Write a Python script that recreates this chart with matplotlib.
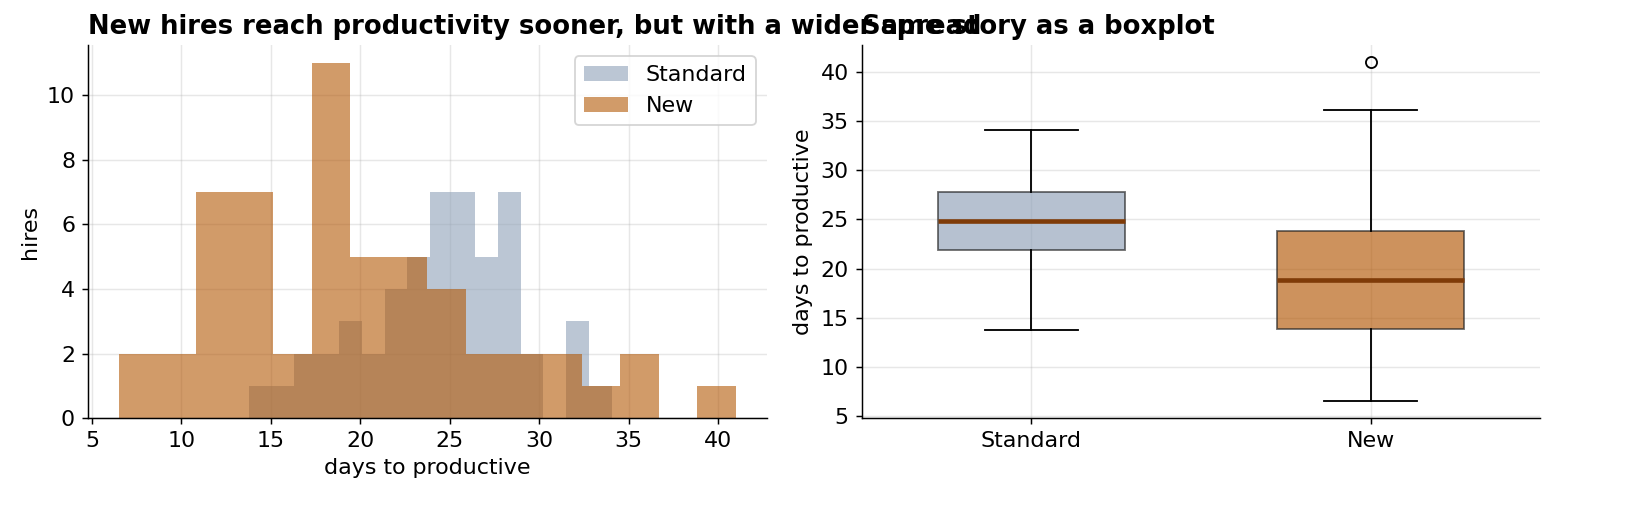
import numpy as np
import matplotlib
matplotlib.use("Agg")
import matplotlib.pyplot as plt

# histogram counts (16 bins each, spanning the min..max of each group)
STD_RANGE = (13.75, 34.05)
STD_COUNTS = [1, 1, 2, 2, 3, 2, 4, 5, 7, 7, 5, 7, 2, 0, 3, 1]
NEW_RANGE = (6.5, 41.0)
NEW_COUNTS = [2, 2, 7, 7, 2, 11, 5, 5, 4, 2, 2, 2, 1, 2, 0, 1]

# boxplot summary
GROUPS = ["Standard", "New"]
MEDIANS = [24.85, 18.8]
Q1 = [21.85, 13.85]
Q3 = [27.8, 23.85]
WHISK_LO = [13.75, 6.5]
WHISK_HI = [34.05, 36.1]
FLIERS = [[], [41.0]]

C_STD = "#8fa1b8"
C_NEW = "#b35806"
C_MED = "#7f3b08"

plt.rcParams.update({"font.size": 12})

DPI = 133
fig, (ax1, ax2) = plt.subplots(1, 2, figsize=(1630 / DPI, 520 / DPI), dpi=DPI)
fig.subplots_adjust(left=0.054, right=0.945, top=0.913, bottom=0.196, wspace=0.14)

for counts, rng, col, lab in ((STD_COUNTS, STD_RANGE, C_STD, "Standard"),
                              (NEW_COUNTS, NEW_RANGE, C_NEW, "New")):
    edges = np.linspace(rng[0], rng[1], len(counts) + 1)
    ax1.hist(edges[:-1], bins=edges, weights=counts, color=col, alpha=0.6, label=lab)
ax1.set_xlabel("days to productive")
ax1.set_ylabel("hires")
ax1.set_title("New hires reach productivity sooner, but with a wider spread",
              loc="left", fontweight="bold", fontsize=14)
ax1.legend(loc="upper right")
ax1.grid(alpha=0.3)

stats = [dict(label=g, med=m, q1=a, q3=b, whislo=lo, whishi=hi, fliers=f)
         for g, m, a, b, lo, hi, f in zip(GROUPS, MEDIANS, Q1, Q3, WHISK_LO, WHISK_HI, FLIERS)]
bp = ax2.bxp(stats, widths=0.55, patch_artist=True,
             medianprops=dict(color=C_MED, lw=2.5),
             whiskerprops=dict(color="black", lw=1.0),
             capprops=dict(color="black", lw=1.0),
             flierprops=dict(marker="o", markerfacecolor="none",
                             markeredgecolor="black", markersize=6))
for patch, col in zip(bp["boxes"], (C_STD, C_NEW)):
    patch.set_facecolor(col)
    patch.set_alpha(0.65)
    patch.set_edgecolor("#222222")
    patch.set_linewidth(1.0)
ax2.set_ylabel("days to productive")
ax2.set_title("Same story as a boxplot", loc="left", fontweight="bold", fontsize=14)
ax2.grid(alpha=0.3)

for ax in (ax1, ax2):
    ax.spines["top"].set_visible(False)
    ax.spines["right"].set_visible(False)
    ax.set_axisbelow(True)

fig.savefig("out.png", dpi=DPI)
